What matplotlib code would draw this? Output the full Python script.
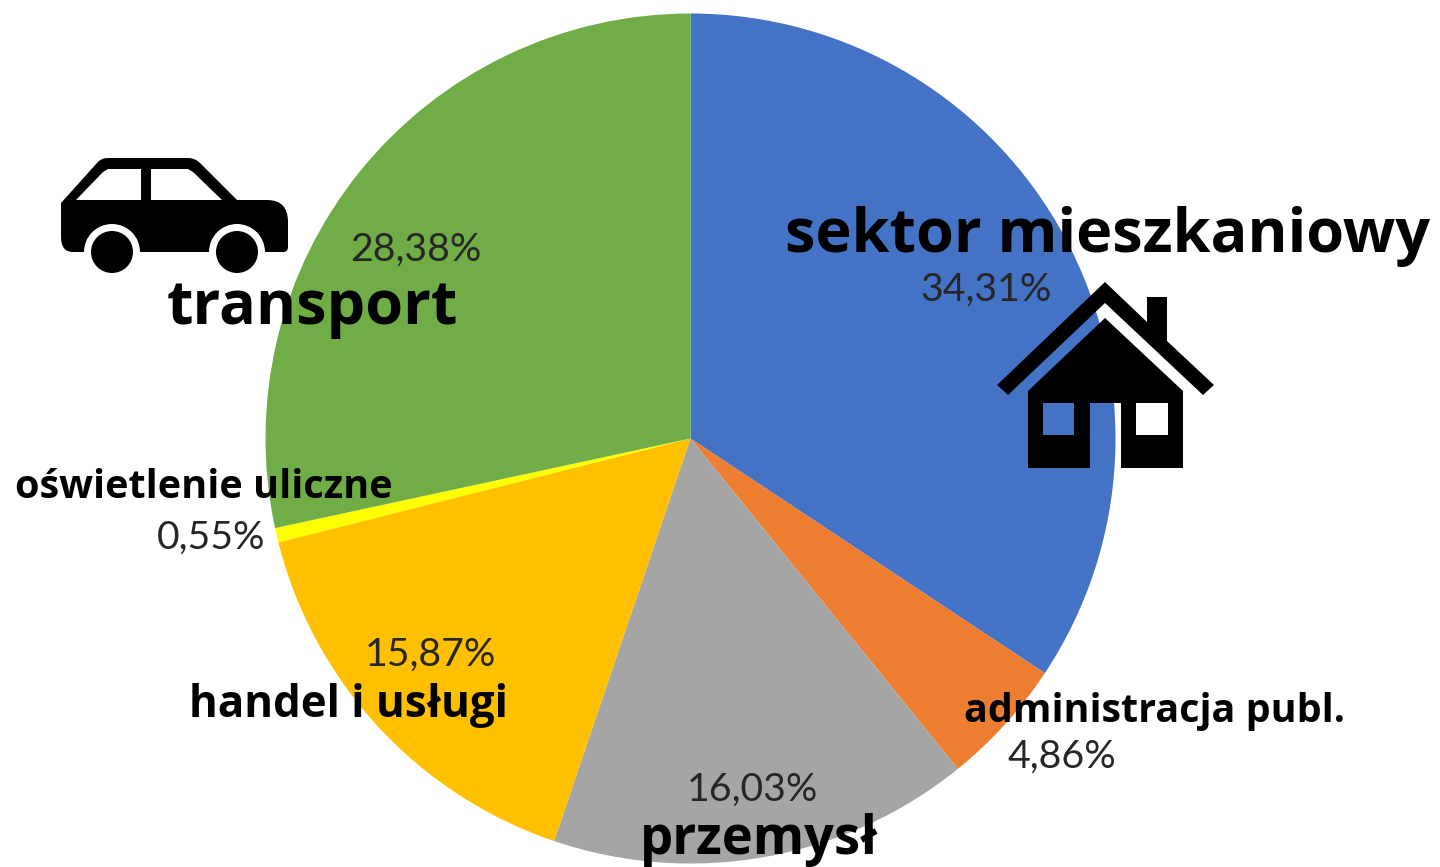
import numpy as np
from matplotlib import pyplot as plt
from matplotlib.path import Path
from matplotlib.patches import PathPatch, Circle

plt.rcParams['font.family'] = ['Lato', 'DejaVu Sans']

#shares in percent, clockwise from the top
sektory = ['sektor mieszkaniowy', 'administracja publ.', 'przemysł', 'handel i usługi', 'oświetlenie uliczne', 'transport']
udzialy = [34.31, 4.86, 16.03, 15.87, 0.55, 28.38]
kolory = ['#4472C4', '#ED7D31', '#A5A5A5', '#FFC000', '#FFFF00', '#70AD47']

W, H = 1440, 867
cx, cy, r = 690.5, 438.5, 425

fig = plt.figure(figsize=(W/100, H/100), dpi=100, facecolor='white')

ax = fig.add_axes([(cx-r)/W, (H-cy-r)/H, 2*r/W, 2*r/H])
ax.pie(udzialy, colors=kolory, startangle=90, counterclock=False, radius=1, wedgeprops={'linewidth': 0})
ax.set_xlim(-1, 1)
ax.set_ylim(-1, 1)
ax.axis('off')

#overlay in pixel coordinates for the text and the two icons
ov = fig.add_axes([0, 0, 1, 1], facecolor='none')
ov.set_xlim(0, W)
ov.set_ylim(H, 0)
ov.axis('off')

#percent labels: centre position
poz_proc = [(986, 290), (1062, 757), (752, 790), (431, 655), (211, 538), (416, 250)]
for u, (x, y) in zip(udzialy, poz_proc):
	ov.text(x, y, ('%.2f%%' % u).replace('.', ','), fontsize=28.3, color='#262626', ha='center', va='center')

#category labels: left edge, baseline, size
poz_nazw = [(785, 252, 44), (964, 722, 28.4), (640, 854, 37.8), (189, 717, 31.6), (15, 498, 28.5), (167, 324, 44)]
for s, (x, y, fs) in zip(sektory, poz_nazw):
	ov.text(x, y, s, fontsize=fs, fontweight='bold', family='Open Sans', color='black', ha='left', va='baseline', zorder=6)

#car
M, L, Q, Z = Path.MOVETO, Path.LINETO, Path.CURVE3, Path.CLOSEPOLY
car = [(61, 203, M), (97, 163, L), (101, 158, Q), (108, 158, Q), (188, 158, L), (195, 158, Q), (200, 163, Q),
	(237, 200, L), (267, 200, L), (288, 200, Q), (288, 222, Q), (288, 247, L), (288, 252, Q), (283, 252, Q),
	(73, 252, L), (61, 252, Q), (61, 237, Q), (61, 203, Z)]
ov.add_patch(PathPatch(Path([p[:2] for p in car], [p[2] for p in car]), fc='black', ec='none', zorder=3))
for okno in ([(76, 200), (103, 172), (108, 169), (141, 169), (141, 200)], [(151, 200), (151, 169), (188, 169), (193, 172), (222, 200)]):
	ov.fill(*zip(*okno), color='white', lw=0, zorder=4)
for kx in (112, 237):
	ov.add_patch(Circle((kx, 252), 28, fc='white', ec='none', zorder=4))
	ov.add_patch(Circle((kx, 252), 21, fc='black', ec='none', zorder=5))

#house
roof = [(1105, 282), (997, 385), (1008, 395), (1105, 303), (1203, 395), (1214, 385), (1167, 341), (1167, 297), (1147, 297), (1147, 322)]
ov.fill(*zip(*roof), color='black', lw=0, zorder=3)
body = [(1105, 318), (1183, 391), (1183, 468), (1121, 468), (1121, 403), (1090, 403), (1090, 468), (1028, 468), (1028, 391)]
win1 = [(1043, 403), (1043, 435), (1074, 435), (1074, 403)]
win2 = [(1136, 403), (1136, 435), (1168, 435), (1168, 403)]
verts, codes = [], []
for part in (body, win1, win2):
	verts += part + [part[0]]
	codes += [M] + [L]*(len(part)-1) + [Z]
ov.add_patch(PathPatch(Path(verts, codes), fc='black', ec='none', zorder=3))

plt.savefig('out.png', dpi=100)
